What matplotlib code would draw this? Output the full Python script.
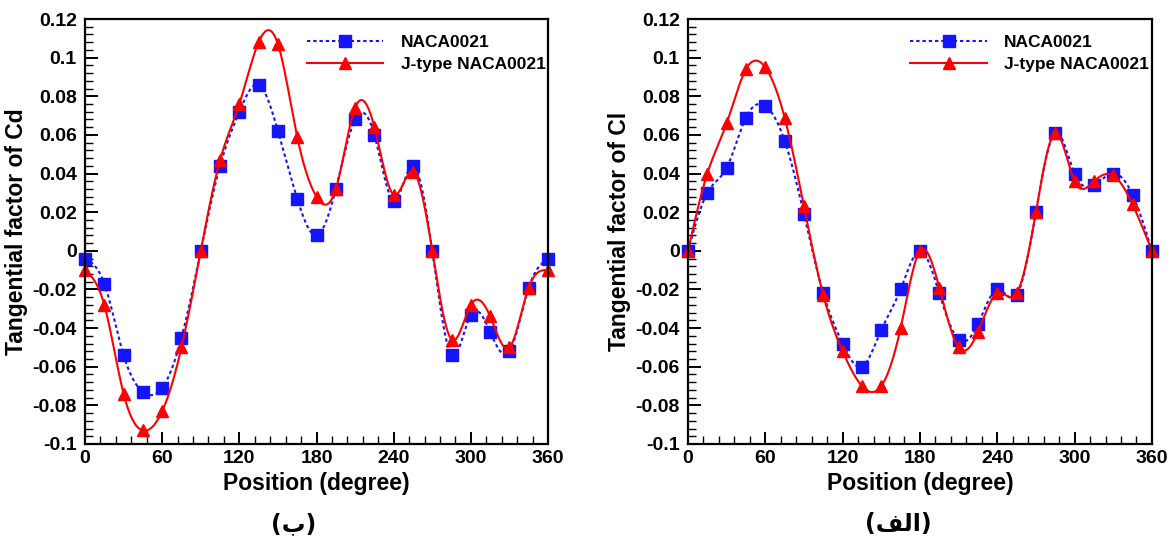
import matplotlib
matplotlib.use('Agg')
import matplotlib.pyplot as plt
import numpy as np
from matplotlib.ticker import MultipleLocator, FuncFormatter

plt.rcParams['font.family'] = ['Liberation Sans', 'DejaVu Sans']
plt.rcParams['font.weight'] = 'bold'
plt.rcParams['axes.unicode_minus'] = False

# azimuthal position of the blade, degrees
position = [0, 15, 30, 45, 60, 75, 90, 105, 120, 135, 150, 165, 180,
            195, 210, 225, 240, 255, 270, 285, 300, 315, 330, 345, 360]

# tangential factor of Cd
cd_naca = [-0.004, -0.017, -0.054, -0.073, -0.071, -0.045, 0.0, 0.044, 0.072,
           0.086, 0.062, 0.027, 0.008, 0.032, 0.068, 0.060, 0.026, 0.044, 0.0,
           -0.054, -0.033, -0.042, -0.052, -0.019, -0.004]
cd_jtype = [-0.010, -0.028, -0.074, -0.093, -0.083, -0.050, 0.0, 0.047, 0.076,
            0.108, 0.107, 0.059, 0.028, 0.032, 0.074, 0.064, 0.029, 0.041, 0.0,
            -0.046, -0.028, -0.034, -0.050, -0.019, -0.010]

# tangential factor of Cl
cl_naca = [0.0, 0.030, 0.043, 0.069, 0.075, 0.057, 0.019, -0.022, -0.048,
           -0.060, -0.041, -0.020, 0.0, -0.022, -0.046, -0.038, -0.020, -0.023,
           0.020, 0.061, 0.040, 0.034, 0.040, 0.029, 0.0]
cl_jtype = [0.0, 0.040, 0.066, 0.094, 0.095, 0.069, 0.023, -0.023, -0.052,
            -0.070, -0.070, -0.040, 0.0, -0.019, -0.050, -0.042, -0.022, -0.022,
            0.020, 0.061, 0.036, 0.036, 0.039, 0.024, 0.0]

series_names = ['NACA0021', 'J-type NACA0021']

BLUE = '#1414ff'
RED = '#ff0000'
DASH = (0, (1.6, 1.4))


def spline(x, y, n=600):
    # natural cubic spline through the points
    x = np.asarray(x, float)
    y = np.asarray(y, float)
    m = len(x)
    h = np.diff(x)
    A = np.zeros((m, m))
    b = np.zeros(m)
    A[0, 0] = 1
    A[-1, -1] = 1
    for i in range(1, m - 1):
        A[i, i - 1] = h[i - 1]
        A[i, i] = 2 * (h[i - 1] + h[i])
        A[i, i + 1] = h[i]
        b[i] = 6 * ((y[i + 1] - y[i]) / h[i] - (y[i] - y[i - 1]) / h[i - 1])
    M = np.linalg.solve(A, b)
    xs = np.linspace(x[0], x[-1], n)
    k = np.clip(np.searchsorted(x, xs) - 1, 0, m - 2)
    t0 = x[k + 1] - xs
    t1 = xs - x[k]
    hk = h[k]
    ys = (M[k] * t0 ** 3 + M[k + 1] * t1 ** 3) / (6 * hk) \
        + (y[k] / hk - M[k] * hk / 6) * t0 + (y[k + 1] / hk - M[k + 1] * hk / 6) * t1
    return xs, ys


def draw(ax, naca, jtype, ylabel):
    xs, ys = spline(position, naca)
    ax.plot(xs, ys, color=BLUE, ls=DASH, lw=1.5, clip_on=False)
    ax.plot(position, naca, ls='none', marker='s', ms=8, color=BLUE, clip_on=False)
    xs, ys = spline(position, jtype)
    ax.plot(xs, ys, color=RED, lw=1.5, clip_on=False)
    ax.plot(position, jtype, ls='none', marker='^', ms=8.5, color=RED, clip_on=False)

    # legend entries
    h1, = ax.plot([], [], color=BLUE, ls=DASH, lw=1.5, marker='s', ms=8)
    h2, = ax.plot([], [], color=RED, lw=1.5, marker='^', ms=8.5)
    ax.legend([h1, h2], series_names, loc='upper left', frameon=False,
              prop={'size': 12.5, 'weight': 'bold'},
              handlelength=4.4, borderpad=0, borderaxespad=0,
              labelspacing=0.4, handletextpad=1.0,
              bbox_to_anchor=(0.4795, 0.962))

    ax.set_xlim(0, 360)
    ax.set_ylim(-0.1, 0.12)
    ax.xaxis.set_major_locator(MultipleLocator(60))
    ax.xaxis.set_minor_locator(MultipleLocator(12))
    ax.yaxis.set_major_locator(MultipleLocator(0.02))
    ax.yaxis.set_minor_locator(MultipleLocator(0.004))
    ax.yaxis.set_major_formatter(FuncFormatter(lambda v, p: '%g' % (round(v, 3) + 0.0)))
    ax.tick_params(which='both', direction='in', top=False, right=False,
                   labelsize=14, width=1.4)
    ax.tick_params(axis='x', pad=4)
    ax.tick_params(axis='y', pad=6)
    ax.tick_params(which='major', length=9)
    ax.tick_params(which='minor', length=5.5, width=1.0)
    for s in ax.spines.values():
        s.set_linewidth(1.6)
    for lab in ax.get_xticklabels() + ax.get_yticklabels():
        lab.set_fontweight('bold')
    ax.set_xlabel('Position (degree)', fontsize=16.5, fontweight='bold', labelpad=4)
    ax.set_ylabel(ylabel, fontsize=16.5, fontweight='bold', labelpad=3)


fig = plt.figure(figsize=(11.71, 5.4), dpi=100)
ax1 = fig.add_axes([0.0726, 0.1778, 0.3954, 0.787])
ax2 = fig.add_axes([0.5875, 0.1778, 0.3962, 0.787])

draw(ax1, cd_naca, cd_jtype, 'Tangential factor of Cd')
draw(ax2, cl_naca, cl_jtype, 'Tangential factor of Cl')

# panel captions, Arabic letters in presentation forms
fig.text(294 / 1171, 0.03, '(\uFE8F)', ha='center', va='center', fontsize=17,
         fontweight='bold', family=['DejaVu Sans'])
fig.text(898 / 1171, 0.03, '(\uFED2\uFEDF\uFE8D)', ha='center', va='center',
         fontsize=17, fontweight='bold', family=['DejaVu Sans'])

fig.savefig('out.png', dpi=100)
